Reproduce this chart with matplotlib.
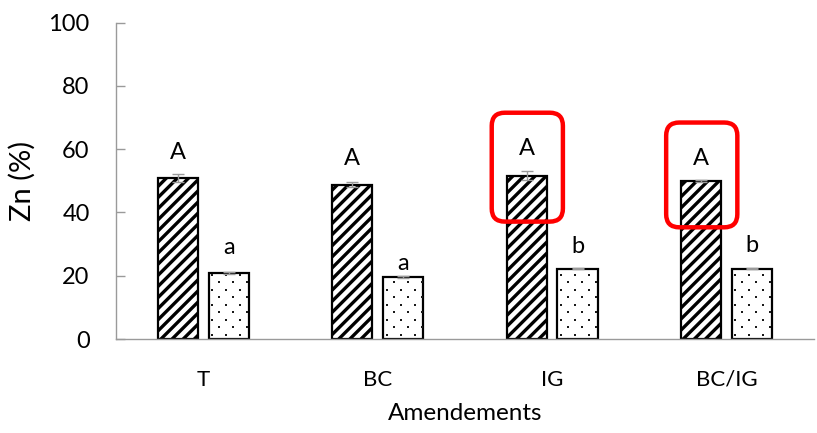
#!/usr/bin/env python3
"""Zn share per amendment, two fractions, with significance letters."""

import matplotlib

matplotlib.use("Agg")
import matplotlib.pyplot as plt
from matplotlib.patches import FancyBboxPatch
import numpy as np

amendments = ["T", "BC", "IG", "BC/IG"]
zn_striped = [50.9, 48.8, 51.6, 49.8]
zn_striped_err = [1.2, 0.7, 1.5, 0.3]
zn_dotted = [20.8, 19.6, 22.2, 22.2]
zn_dotted_err = [0.4, 0.4, 0.2, 0.2]
letters_striped = ["A", "A", "A", "A"]
letters_dotted = ["a", "a", "b", "b"]
letters_striped_y = [57.0, 54.9, 58.0, 54.9]
letters_dotted_y = [26.8, 21.8, 27.1, 27.4]
boxed_groups = [2, 3]

GRAY = "#9a9a9a"
FONT = "Lato"

plt.rcParams["font.family"] = [FONT, "DejaVu Sans"]

fig = plt.figure(figsize=(8.17, 4.33), dpi=100)
ax = fig.add_axes([0.142, 0.217, 0.854, 0.731])

x = np.arange(len(amendments))
width = 0.23
offset = 0.146
stripe_lw = 2.4

plt.rcParams["hatch.linewidth"] = stripe_lw
striped = ax.bar(x - offset, zn_striped, width, color="white", edgecolor="black",
                 linewidth=1.6, hatch="///", zorder=2)
for b in striped:
    if hasattr(b, "set_hatch_linewidth"):
        b.set_hatch_linewidth(stripe_lw)
dotted = ax.bar(x + offset, zn_dotted, width, color="white", edgecolor="black",
                linewidth=1.6, zorder=2)

ax.errorbar(x - offset, zn_striped, yerr=zn_striped_err, fmt="none", ecolor=GRAY,
            elinewidth=1, capsize=4, capthick=1, zorder=3)
ax.errorbar(x + offset, zn_dotted, yerr=zn_dotted_err, fmt="none", ecolor=GRAY,
            elinewidth=1, capsize=4, capthick=1, zorder=3)

for i in range(len(amendments)):
    ax.text(x[i] - offset, letters_striped_y[i], letters_striped[i], ha="center",
            va="baseline", fontsize=17)
    ax.text(x[i] + offset, letters_dotted_y[i], letters_dotted[i], ha="center",
            va="baseline", fontsize=17)

ax.set_xlim(-0.5, len(amendments) - 0.5)
ax.set_ylim(0, 100)
ax.set_yticks(range(0, 101, 20))
ax.set_xticks(x)
ax.set_xticklabels(amendments, fontsize=16)
ax.tick_params(axis="x", length=0, pad=22)
ax.tick_params(axis="y", direction="in", length=6.5, width=1, color=GRAY,
               labelsize=17, pad=19)
for side in ("top", "right"):
    ax.spines[side].set_visible(False)
for side in ("left", "bottom"):
    ax.spines[side].set_color(GRAY)
    ax.spines[side].set_linewidth(1)

ax.set_ylabel("Zn (%)", fontsize=21, labelpad=9)
ax.set_xlabel("Amendements", fontsize=17.5, labelpad=10)

fig.canvas.draw()
p0 = ax.transData.transform((0, 0))
p1 = ax.transData.transform((1, 1))
px_x = p1[0] - p0[0]
px_y = p1[1] - p0[1]

# staggered dot fill for the second fraction, clipped to each bar
step_x = 14.0 / px_x
step_y = 7.5 / px_y
for bar in dotted:
    x0, w, h = bar.get_x(), bar.get_width(), bar.get_height()
    rows = np.arange(step_y * 0.6, h, step_y)
    pts = []
    for r, yy in enumerate(rows):
        start = x0 + step_x * (0.25 if r % 2 == 0 else 0.75)
        for xx in np.arange(start, x0 + w, step_x):
            pts.append((xx, yy))
    pts = np.array(pts)
    dots = ax.scatter(pts[:, 0], pts[:, 1], s=1.6, marker="s", color="#1a1a1a",
                      linewidths=0, zorder=2.5)
    dots.set_clip_path(bar)

# red rounded frames around the striped bar and its letter
aspect = px_x / px_y
for g in boxed_groups:
    top = letters_striped_y[g] + 13.5
    bottom = zn_striped[g] - 14.5
    left = x[g] - offset - 0.2
    right = x[g] - offset + 0.208
    ax.add_patch(FancyBboxPatch((left, bottom), right - left, top - bottom,
                                boxstyle="round,pad=0,rounding_size=0.075",
                                mutation_aspect=aspect, fill=False,
                                edgecolor="#ff0000", linewidth=3.2, zorder=4,
                                clip_on=False))

fig.savefig("out.png", dpi=100)
